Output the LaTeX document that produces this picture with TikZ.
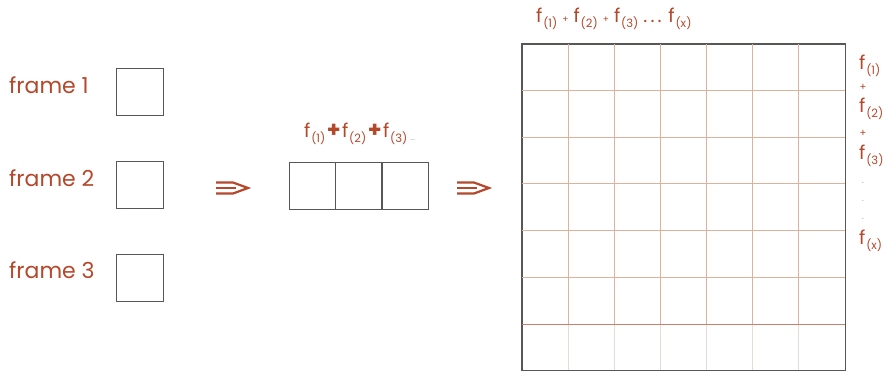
\documentclass[tikz,border=0pt]{standalone}
\usepackage{fontspec}
\setmainfont{Poppins}
\usetikzlibrary{arrows.meta,positioning}
\definecolor{rust}{HTML}{B5472B}
\definecolor{gridln}{HTML}{DDB29C}
\definecolor{boxln}{HTML}{5A5656}
\definecolor{faint}{HTML}{E6DCD6}
\definecolor{dotgray}{HTML}{BBAEA6}
\newcommand{\fterm}[1]{f\kern0.8pt\raisebox{-0.45ex}{\fontsize{11.5}{12}\selectfont(#1)}}
\newcommand{\bplus}{\kern1.5pt{\fontsize{22}{22}\selectfont\textbf{+}}\kern1.5pt}
\tikzset{
  framebox/.style={draw=boxln, line width=0.8pt, minimum width=47pt,
                   minimum height=47pt, inner sep=0pt},
  cell/.style={draw=boxln, line width=0.8pt, minimum width=46pt,
               minimum height=47pt, inner sep=0pt},
  gridbox/.style={draw=boxln, line width=0.9pt, minimum width=323pt,
                  minimum height=326pt, inner sep=0pt},
  lbl/.style={text=rust, font=\fontsize{22}{24}\selectfont, inner sep=0pt},
  flbl/.style={text=rust, font=\fontsize{19}{21}\selectfont, inner sep=0pt},
  small/.style={text=rust, font=\fontsize{10}{11}\selectfont, inner sep=0pt},
  glyph/.style={draw=rust, line width=2.2pt, line join=miter}
}
\begin{document}
\begin{tikzpicture}[x=1pt,y=-1pt]
  \useasboundingbox (0,0) rectangle (889,376);

  % input frames
  \node[framebox] (f1) at (139.5,92) {};
  \node[framebox] (f2) at (139.5,185) {};
  \node[framebox] (f3) at (139.5,278) {};
  \node[lbl, anchor=west] (t1) at (9,85) {frame 1};
  \node[lbl, anchor=west] (t2) at (9,178) {frame 2};
  \node[lbl, anchor=west] (t3) at (9,270) {frame 3};

  % strip of frames
  \node[cell] (c1) at (312,185.5) {};
  \node[cell, right=0pt of c1] (c2) {};
  \node[cell, right=0pt of c2] (c3) {};
  \node[flbl, anchor=west] (strip) at (304,134)
    {\fterm{1}\bplus\fterm{2}\bplus\fterm{3}\kern3pt\textcolor{dotgray}{\fontsize{8}{8}\selectfont\raisebox{-0.6ex}{\ldots}}};

  % arrows
  \coordinate (a1) at (216,188);
  \coordinate (b1) at (457,188);
  \foreach \p in {a1,b1} {
    \draw[glyph] (\p) ++(0,-5.5) -- ++(17,0) -- ++(15,5.5) -- ++(-15,5.5) -- ++(-17,0);
    \draw[glyph] (\p) -- ++(20,0);
  }

  % big grid
  \node[gridbox] (big) at (683.5,207) {};
  \foreach \i in {1,...,6} {
    \draw[gridln, line width=0.8pt] (522+\i*46.14,44) -- (522+\i*46.14,324);
    \draw[faint, line width=0.8pt] (522+\i*46.14,324) -- (522+\i*46.14,370);
  }
  \foreach \j in {1,...,5}
    \draw[gridln, line width=0.8pt] (522,44+\j*46.6) -- (845,44+\j*46.6);
  \draw[rust!70, line width=0.9pt] (522,324) -- (845,324);
  \draw[boxln, line width=0.9pt] (big.north west) rectangle (big.south east);

  \node[flbl, anchor=west] (top) at (536,19)
    {\fterm{1} {\small+} \fterm{2} {\small+} \fterm{3} .\,.\,. \fterm{x}};

  % right hand labels
  \node[flbl, anchor=west] (r1) at (859,66) {\fterm{1}};
  \node[small] (p1) at (863,87) {+};
  \node[flbl, anchor=west] (r2) at (859,109) {\fterm{2}};
  \node[small] (p2) at (863,133) {+};
  \node[flbl, anchor=west] (r3) at (859,156) {\fterm{3}};
  \node[small, text=dotgray] (d1) at (863,183) {.};
  \node[small, text=dotgray] (d2) at (863,201) {.};
  \node[small, text=dotgray] (d3) at (863,219) {.};
  \node[flbl, anchor=west] (rx) at (859,241) {\fterm{x}};
\end{tikzpicture}
\end{document}
